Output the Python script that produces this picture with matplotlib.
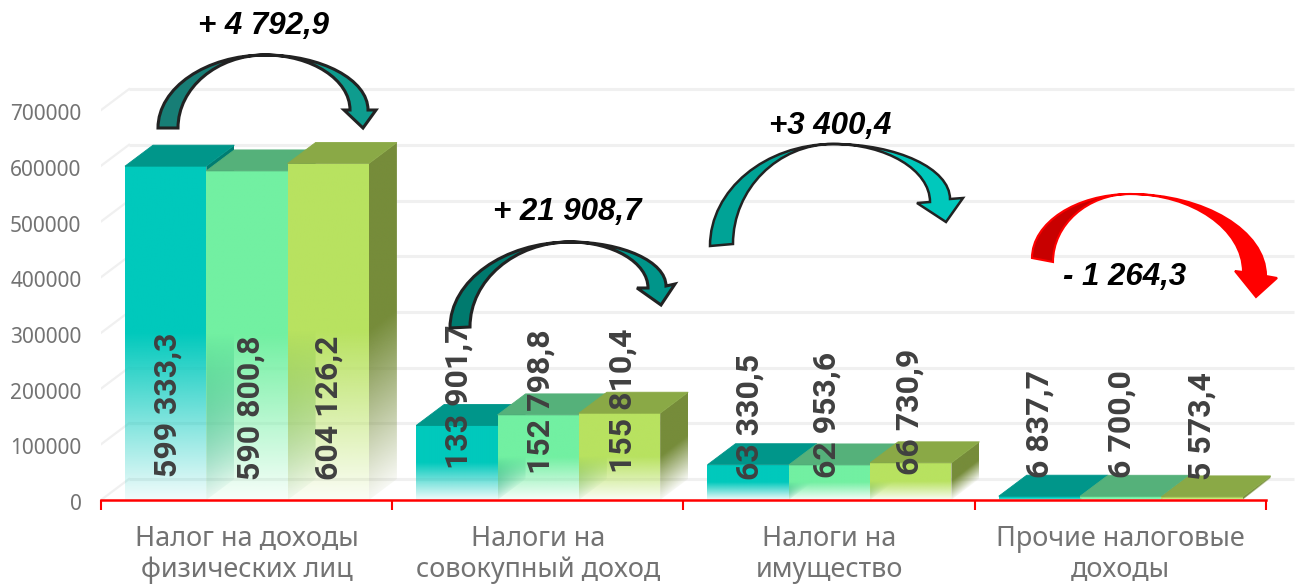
#!/usr/bin/env python3
"""Pseudo-3D grouped bars of tax revenue with curved change arrows."""
import numpy as np
import matplotlib
matplotlib.use("Agg")
import matplotlib.pyplot as plt
from matplotlib.colors import to_rgb
from matplotlib.patches import PathPatch, Polygon
from matplotlib.path import Path
from matplotlib.transforms import ScaledTranslation

CATEGORIES = ["Налог на доходы\nфизических лиц", "Налоги на\nсовокупный доход",
              "Налоги на\nимущество", "Прочие налоговые\nдоходы"]
SERIES_1 = [599333.3, 133901.7, 63330.5, 6837.7]
SERIES_2 = [590800.8, 152798.8, 62953.6, 6700.0]
SERIES_3 = [604126.2, 155810.4, 66730.9, 5573.4]
LABELS_1 = ["599 333,3", "133 901,7", "63 330,5", "6 837,7"]
LABELS_2 = ["590 800,8", "152 798,8", "62 953,6", "6 700,0"]
LABELS_3 = ["604 126,2", "155 810,4", "66 730,9", "5 573,4"]
YTICKS = [0, 100000, 200000, 300000, 400000, 500000, 600000, 700000]
CHANGES = ["+ 4 792,9", "+ 21 908,7", "+3 400,4", "- 1 264,3"]

W, H = 1300, 585
X0, Y0 = 101, 500          # pixel position of the chart origin
PX_CAT = 291.25            # pixels per category
PX_VAL = 55.7 / 100000     # pixels per value unit
DX = 28 / PX_CAT           # depth offset of the fake 3D
DY = 21 / PX_VAL
BAR_W = 81.3 / PX_CAT
BAR_PAD = 24 / PX_CAT

FRONT = ["#00c9bc", "#72f0a2", "#b8e260"]
TOP = ["#00968a", "#55b17a", "#8aa946"]
SIDE = ["#007d72", "#4f9e6c", "#768c3a"]
GRID = "#f0f0f0"
TEXT = "#737373"
LABEL_FONT = ["Roboto", "Liberation Sans", "DejaVu Sans"]
TEXT_FONT = ["Noto Sans", "DejaVu Sans"]
# pixels between the baseline and the start of each rotated label, by group and bar
LABEL_LIFT = [[23, 20, 20], [31, 26, 27], [20, 22, 25], [22, 22, 20]]
# sideways pixel shift of each rotated label from its bar centre
LABEL_SHIFT = [[1.5, 4, 0], [1.5, 2, 3], [1.5, -3, -1], [0, 1, 0]]


def fade_face(ax, verts, color, x_left, skew, height):
    """Fill a bar face, fading to white over the lower half of the bar."""
    verts = np.array(verts)
    xs = np.linspace(verts[:, 0].min(), verts[:, 0].max(), 40)
    ys = np.linspace(0, verts[:, 1].max(), 300)
    xx, yy = np.meshgrid(xs, ys)
    rel = (yy - skew * (xx - x_left)) / height
    rgba = np.zeros(xx.shape + (4,))
    rgba[..., :3] = to_rgb(color)
    rgba[..., 3] = np.clip(0.06 + 0.94 * rel / 0.5, 0, 1)
    im = ax.imshow(rgba, origin="lower", aspect="auto", interpolation="bilinear", zorder=3,
                   extent=[xs[0], xs[-1], ys[0], ys[-1]])
    im.set_clip_path(Polygon(verts, transform=ax.transData))


def draw_bar(ax, left, value, i):
    right = left + BAR_W
    fade_face(ax, [(left, 0), (right, 0), (right, value), (left, value)], FRONT[i], left, 0, value)
    fade_face(ax, [(right, 0), (right + DX, DY), (right + DX, value + DY), (right, value)],
              SIDE[i], right, DY / DX, value)
    ax.add_patch(Polygon([(left, value), (right, value), (right + DX, value + DY), (left + DX, value + DY)],
                         facecolor=TOP[i], edgecolor=TOP[i], lw=0.6, zorder=3))


def curved_arrow(ov, outer, inner, apex, wing_l, tip, wing_r, shaft_o, shaft_i, col_l, col_r, edge, lw):
    k = 0.55
    def seg(a, b, rising):
        # quarter-ellipse like Bezier between a and b
        if rising:
            return [(a[0], a[1] + k * (b[1] - a[1])), (b[0] + k * (a[0] - b[0]), b[1]), b]
        return [(a[0] + k * (b[0] - a[0]), a[1]), (b[0], b[1] + k * (a[1] - b[1])), b]

    left = [outer] + seg(outer, apex, True) + seg(apex, inner, False) + [outer]
    lcodes = [Path.MOVETO] + [Path.CURVE4] * 6 + [Path.CLOSEPOLY]
    right = [apex] + seg(apex, shaft_o, False) + [wing_r, tip, wing_l, shaft_i]
    right += seg(shaft_i, apex, True) + [apex]
    rcodes = [Path.MOVETO] + [Path.CURVE4] * 3 + [Path.LINETO] * 4 + [Path.CURVE4] * 3 + [Path.CLOSEPOLY]
    for pts, codes, col in ((left, lcodes, col_l), (right, rcodes, col_r)):
        ov.add_patch(PathPatch(Path(pts, codes), facecolor=col, edgecolor=edge, lw=lw, joinstyle="miter"))


fig = plt.figure(figsize=(W / 100, H / 100), dpi=100)
ax = fig.add_axes([X0 / W, (H - Y0) / H, (W - X0) / W, Y0 / H])
ax.patch.set_alpha(0)

# back wall and left wall grid
for v in YTICKS:
    ax.plot([DX, (W - 6 - X0) / PX_CAT], [v + DY, v + DY], color=GRID, lw=2.2, zorder=1, solid_capstyle="butt")
    ax.plot([0, DX], [v, v + DY], color=GRID, lw=1.6, zorder=1)

series = [SERIES_1, SERIES_2, SERIES_3]
labels = [LABELS_1, LABELS_2, LABELS_3]
for g in range(len(CATEGORIES)):
    for i in range(3):
        draw_bar(ax, g + BAR_PAD + i * BAR_W, series[i][g], i)
for g in range(len(CATEGORIES)):
    for i in range(3):
        ax.text(g + BAR_PAD + (i + 0.5) * BAR_W + LABEL_SHIFT[g][i] / PX_CAT, LABEL_LIFT[g][i] / PX_VAL, labels[i][g],
                rotation=90, ha="center", va="bottom", fontsize=23, fontweight="bold",
                family=LABEL_FONT, color="#404040", zorder=5)

ax.set_xlim(0, (W - X0) / PX_CAT)
ax.set_ylim(0, Y0 / PX_VAL)
for s in ("top", "right", "left"):
    ax.spines[s].set_visible(False)
ax.spines["bottom"].set_color("#ff0000")
ax.spines["bottom"].set_linewidth(1.8)
ax.spines["bottom"].set_bounds(0, 4)
ax.spines["bottom"].set_zorder(6)
ax.set_yticks(YTICKS)
ax.set_yticklabels([str(v) for v in YTICKS], fontsize=15, color=TEXT, family=TEXT_FONT)
ax.tick_params(axis="y", length=0, pad=14)
nudge = ScaledTranslation(0, -2 / 100, fig.dpi_scale_trans)
for lab in ax.get_yticklabels():
    lab.set_transform(lab.get_transform() + nudge)
ax.set_xticks(range(5))
ax.set_xticklabels([])
ax.tick_params(axis="x", which="major", length=7, width=1.5, color="#ff0000")
ax.set_xticks([g + 0.5 for g in range(4)], minor=True)
ax.set_xticklabels(CATEGORIES, minor=True, fontsize=19.5, color=TEXT, family=TEXT_FONT, linespacing=1.15)
ax.tick_params(axis="x", which="minor", length=0, pad=18)

# overlay in pixel coordinates for the arrows and their captions
ov = fig.add_axes([0, 0, 1, 1], zorder=10)
ov.set_xlim(0, W)
ov.set_ylim(H, 0)
ov.axis("off")

curved_arrow(ov, (158, 128), (178, 128), (265, 55), (344, 110), (363, 128), (376, 110), (368, 110), (350, 110),
             "#177e76", "#0e9c8e", "#222222", 2.2)
curved_arrow(ov, (450, 328), (470, 327), (570, 242), (637, 288), (661, 305), (675, 284), (666, 286), (648, 288),
             "#007a6e", "#00958a", "#222222", 2.2)
curved_arrow(ov, (710, 246), (733, 244), (833, 144), (917, 203), (946, 222), (963, 198), (950, 199), (930, 202),
             "#00a396", "#00c8bc", "#222222", 1.8)
curved_arrow(ov, (1032, 258), (1053, 262), (1130, 194), (1235, 271), (1256, 297), (1277, 278), (1266, 276), (1243, 272),
             "#c80000", "#ff0000", "#ff0000", 1.5)

for txt, x, y in zip(CHANGES, (264, 567, 830, 1125), (26, 212, 126, 277)):
    ov.text(x, y, txt, ha="center", va="center", fontsize=22.5, fontweight="bold", fontstyle="italic",
            family=["Liberation Sans", "DejaVu Sans"], color="#000000")

fig.savefig("out.png", dpi=100)
